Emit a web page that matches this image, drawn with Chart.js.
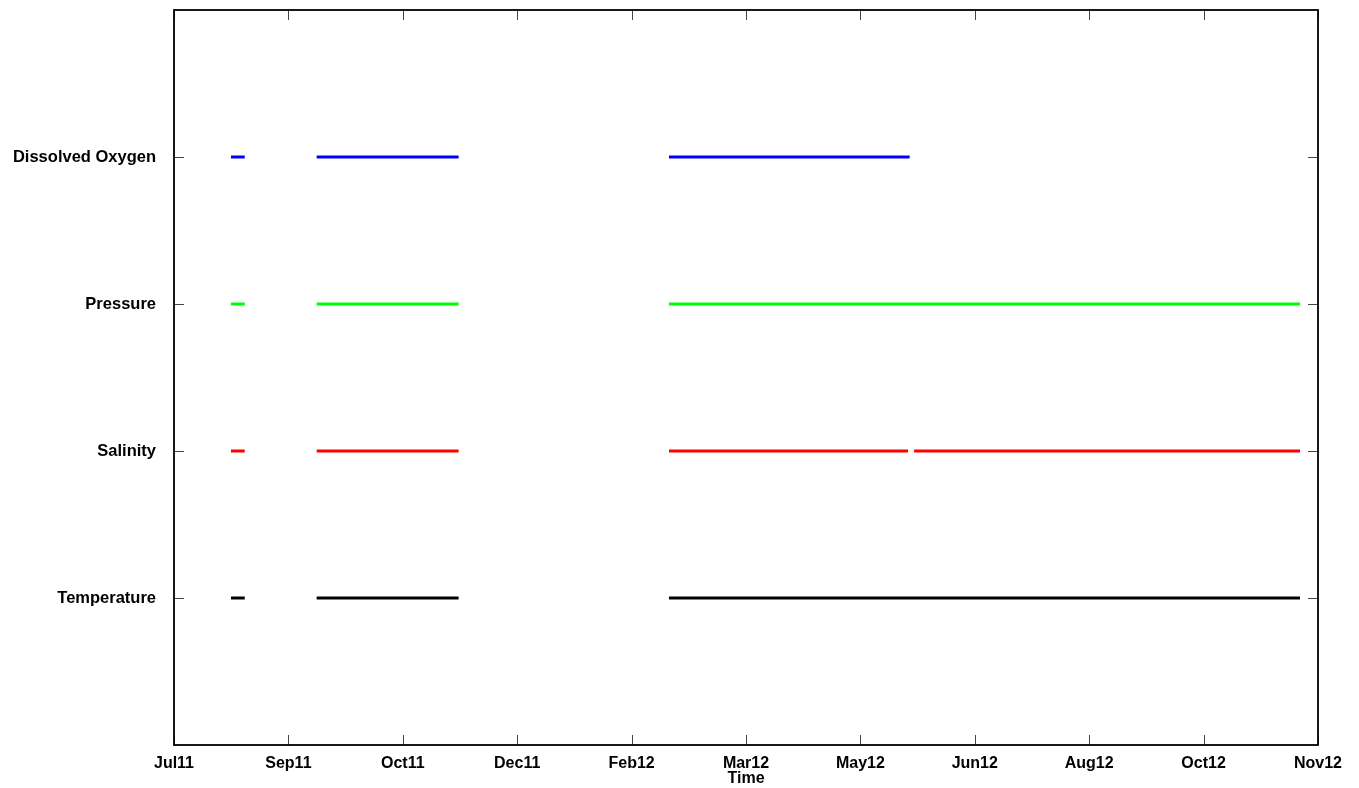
<!DOCTYPE html>
<html>
<head>
<meta charset="utf-8">
<script src="https://cdn.jsdelivr.net/npm/chart.js@4/dist/chart.umd.min.js"></script>
<style>
  html, body { margin: 0; padding: 0; background: #fff; }
  #wrap { width: 1359px; height: 788px; }
</style>
</head>
<body>
<div id="wrap"><canvas id="c" width="1359" height="788"></canvas></div>
<script>
// Instrument records, x in days since 21 Jul 2011
const categories = ['Temperature', 'Salinity', 'Pressure', 'Dissolved Oxygen'];
const tickLabels = ['Jul11', 'Sep11', 'Oct11', 'Dec11', 'Feb12', 'Mar12', 'May12', 'Jun12', 'Aug12', 'Oct12', 'Nov12'];
const tickDays = [0, 49, 98, 147, 196, 245, 294, 343, 392, 441, 490];

// Each pair is [first day, last day] of a continuous record
const temperatureSpans = [[24.4, 30.3], [61.1, 121.9], [212.0, 482.3]];
const salinitySpans    = [[24.4, 30.3], [61.1, 121.9], [212.0, 314.4], [317.0, 482.3]];
const pressureSpans    = [[24.4, 30.3], [61.1, 121.9], [212.0, 482.3]];
const oxygenSpans      = [[24.4, 30.3], [61.1, 121.9], [212.0, 315.1]];

const seriesColors = ['#000000', '#ff0000', '#00ff00', '#0000ff'];
const allSpans = [temperatureSpans, salinitySpans, pressureSpans, oxygenSpans];

function spansToPoints(spans, level) {
  const pts = [];
  spans.forEach((s, i) => {
    if (i > 0) pts.push({ x: s[0] - 0.01, y: null });
    pts.push({ x: s[0], y: level });
    pts.push({ x: s[1], y: level });
  });
  return pts;
}

const datasets = categories.map((name, i) => ({
  label: name,
  data: spansToPoints(allSpans[i], i + 1),
  borderColor: seriesColors[i],
  backgroundColor: seriesColors[i],
  borderWidth: 3,
  borderCapStyle: 'butt',
  pointRadius: 0,
  spanGaps: false,
  fill: false
}));

// Frame around the plot with short inward tick marks on all four sides
const framePlugin = {
  id: 'frame',
  afterDraw(chart) {
    const { ctx, chartArea: a, scales } = chart;
    ctx.save();
    ctx.strokeStyle = '#444';
    ctx.lineWidth = 1;
    const len = 10;
    scales.x.ticks.forEach(t => {
      const px = Math.round(scales.x.getPixelForValue(t.value)) + 0.5;
      ctx.beginPath();
      ctx.moveTo(px, a.bottom); ctx.lineTo(px, a.bottom - len);
      ctx.moveTo(px, a.top); ctx.lineTo(px, a.top + len);
      ctx.stroke();
    });
    scales.y.ticks.forEach(t => {
      const py = Math.round(scales.y.getPixelForValue(t.value)) + 0.5;
      ctx.beginPath();
      ctx.moveTo(a.left, py); ctx.lineTo(a.left + len, py);
      ctx.moveTo(a.right, py); ctx.lineTo(a.right - len, py);
      ctx.stroke();
    });
    ctx.strokeStyle = '#000';
    ctx.lineWidth = 1.8;
    ctx.strokeRect(a.left, a.top, a.right - a.left, a.bottom - a.top);
    ctx.restore();
  }
};

Chart.defaults.font.family = '"Liberation Sans", Arial, sans-serif';
Chart.defaults.color = '#000';

new Chart(document.getElementById('c'), {
  type: 'line',
  data: { datasets },
  plugins: [framePlugin],
  options: {
    responsive: false,
    animation: false,
    layout: { padding: { top: 10, right: 41, left: 0, bottom: 0 } },
    plugins: { legend: { display: false }, tooltip: { enabled: false } },
    scales: {
      x: {
        type: 'linear',
        min: 0,
        max: 490,
        afterBuildTicks(scale) { scale.ticks = tickDays.map(v => ({ value: v })); },
        afterFit(scale) { scale.height = 43; scale.paddingLeft = 0; scale.paddingRight = 0; },
        grid: { display: false, drawTicks: false },
        border: { display: false },
        ticks: {
          padding: 9,
          maxRotation: 0,
          autoSkip: false,
          font: { size: 16, weight: 'bold' },
          callback: (v, i) => tickLabels[i]
        },
        title: {
          display: true,
          text: 'Time',
          font: { size: 16, weight: 'bold' },
          padding: { top: -6, bottom: 0 }
        }
      },
      y: {
        type: 'linear',
        min: 0,
        max: 5,
        afterBuildTicks(scale) { scale.ticks = categories.map((c, i) => ({ value: i + 1 })); },
        afterFit(scale) { scale.width = 174; scale.paddingTop = 0; scale.paddingBottom = 0; },
        grid: { display: false, drawTicks: false },
        border: { display: false },
        ticks: {
          padding: 18,
          autoSkip: false,
          font: { size: 16.5, weight: 'bold' },
          callback: (v) => categories[v - 1]
        }
      }
    }
  }
});
</script>
</body>
</html>
